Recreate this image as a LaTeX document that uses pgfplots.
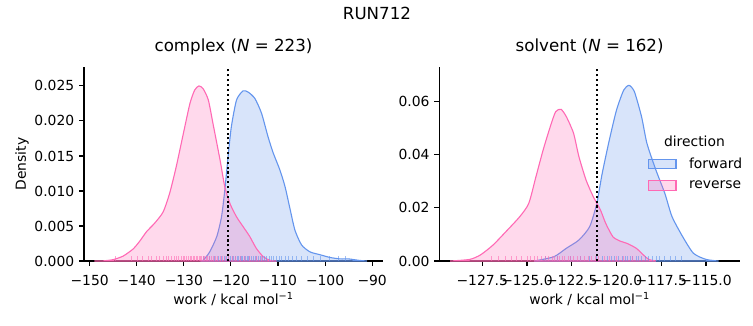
\documentclass[border=0pt]{standalone}
\usepackage{pgfplots}
\pgfplotsset{compat=1.18}
\usepackage{fontspec}
\setmainfont{DejaVu Sans}
\definecolor{fwd}{HTML}{6495ED}
\definecolor{rev}{HTML}{FF69B4}
\pgfplotsset{
  myaxis/.style={
    scale only axis, width=215.28pt, height=139.68pt,
    axis x line*=bottom, axis y line*=left,
    axis line style={line width=0.8pt, -},
    tick align=outside, major tick length=3.5pt,
    tick style={line width=0.8pt, black},
    scaled y ticks=false, scaled x ticks=false,
    tick label style={font=\fontsize{10}{12}\selectfont},
    xticklabel style={yshift=-3pt},
    label style={font=\fontsize{10}{12}\selectfont},
    title style={font=\fontsize{12}{14}\selectfont, at={(0.5,1)}, anchor=base, yshift=5pt},
    xlabel={work / kcal mol\textsuperscript{−1}},
    xlabel style={at={(axis description cs:0.5,-0.196)}, anchor=center},
    ymin=0,
  },
  kde/.style={smooth, tension=0.4, line width=0.8pt, fill opacity=0.25},
  rug/.style={ycomb, no marks, line width=0.5pt, opacity=0.6, forget plot},
}
\begin{document}
\begin{tikzpicture}
\path (0,0) rectangle (542.16pt,234pt);
\node[font=\fontsize{12}{14}\selectfont, anchor=base] at (271.4pt,220.3pt) {RUN712};
% ---------------- complex ----------------
\begin{axis}[myaxis, at={(60.48pt,46.08pt)}, anchor=south west,
  xmin=-151.2, xmax=-87.7, ymax=0.0277,
  xtick={-150,-140,-130,-120,-110,-100,-90},
  xticklabels={−150,−140,−130,−120,−110,−100,−90},
  ytick={0,0.005,0.01,0.015,0.02,0.025},
  yticklabels={0.000,0.005,0.010,0.015,0.020,0.025},
  ylabel={Density},
  ylabel style={at={(axis description cs:-0.207,0.5)}, anchor=center},
  title={complex (\textit{N} = 223)}]
\addplot[kde, draw=fwd, fill=fwd] coordinates {
(-126.5,0)(-125.9,0.0001)(-124.5,0.0013)(-123.0,0.0035)(-122.0,0.0063)(-121.3,0.0101)(-120.6,0.0149)(-119.9,0.0192)(-118.8,0.0230)(-117.4,0.0243)(-116.3,0.0241)(-114.9,0.0232)(-113.5,0.0211)(-112.1,0.0177)(-111.0,0.0154)(-109.6,0.0130)(-108.5,0.0106)(-107.4,0.0073)(-106.4,0.0044)(-105.0,0.0023)(-103.2,0.0013)(-101.1,0.0009)(-98.9,0.0005)(-96.8,0.0003)(-95.0,0.0003)(-92.9,0.0001)(-91.1,0)
} \closedcycle;
\addplot[kde, draw=rev, fill=rev] coordinates {
(-149,0)(-147,0.00003)(-145.0,0.0002)(-142.9,0.0007)(-140.8,0.0017)(-139.4,0.0028)(-137.9,0.0042)(-136.2,0.0054)(-134.4,0.0070)(-133.0,0.0097)(-131.6,0.0135)(-130.1,0.0182)(-128.7,0.0225)(-127.7,0.0244)(-126.8,0.0250)(-125.9,0.0246)(-124.8,0.0230)(-123.8,0.0196)(-122.3,0.0144)(-121.3,0.0106)(-120.2,0.0082)(-118.8,0.0063)(-117.4,0.0049)(-116.0,0.0035)(-114.6,0.0018)(-113.1,0.0006)(-111.7,0.0001)(-110.3,0)
} \closedcycle;
\addplot[rug, draw=fwd] coordinates {
(-125.8,0.00069)(-124.6,0.00069)(-123.5,0.00069)(-122.7,0.00069)(-122.0,0.00069)(-121.5,0.00069)(-121.0,0.00069)(-120.6,0.00069)(-120.2,0.00069)(-119.8,0.00069)(-119.4,0.00069)(-119.0,0.00069)(-118.7,0.00069)(-118.4,0.00069)(-118.1,0.00069)(-117.8,0.00069)(-117.5,0.00069)(-117.2,0.00069)(-116.9,0.00069)(-116.6,0.00069)(-116.3,0.00069)(-116.0,0.00069)(-115.6,0.00069)(-115.3,0.00069)(-114.9,0.00069)(-114.5,0.00069)(-114.1,0.00069)(-113.7,0.00069)(-113.3,0.00069)(-112.9,0.00069)(-112.4,0.00069)(-111.9,0.00069)(-111.4,0.00069)(-110.9,0.00069)(-110.4,0.00069)(-109.8,0.00069)(-109.2,0.00069)(-108.5,0.00069)(-107.8,0.00069)(-107.0,0.00069)(-106.1,0.00069)(-105.0,0.00069)(-103.8,0.00069)(-102.5,0.00069)(-101.0,0.00069)(-99.0,0.00069)(-97.2,0.00069)(-95.7,0.00069)
};
\addplot[rug, draw=rev] coordinates {
(-144.5,0.00069)(-141.2,0.00069)(-139.8,0.00069)(-138.9,0.00069)(-137.6,0.00069)(-136.8,0.00069)(-135.9,0.00069)(-135.1,0.00069)(-134.4,0.00069)(-133.7,0.00069)(-133.2,0.00069)(-132.6,0.00069)(-132.0,0.00069)(-131.5,0.00069)(-131.1,0.00069)(-130.6,0.00069)(-130.2,0.00069)(-129.8,0.00069)(-129.4,0.00069)(-129.0,0.00069)(-128.7,0.00069)(-128.3,0.00069)(-128.0,0.00069)(-127.7,0.00069)(-127.4,0.00069)(-127.1,0.00069)(-126.8,0.00069)(-126.5,0.00069)(-126.2,0.00069)(-125.9,0.00069)(-125.6,0.00069)(-125.2,0.00069)(-124.9,0.00069)(-124.5,0.00069)(-124.1,0.00069)(-123.7,0.00069)(-123.2,0.00069)(-122.8,0.00069)(-122.3,0.00069)(-121.8,0.00069)(-121.2,0.00069)(-120.5,0.00069)(-119.8,0.00069)(-119.0,0.00069)(-118.1,0.00069)(-117.2,0.00069)(-116.0,0.00069)(-114.6,0.00069)(-113.5,0.00069)
};
\addplot[black, dotted, line width=1.5pt, forget plot] coordinates {(-120.7,0) (-120.7,0.0277)};
\end{axis}
% ---------------- solvent ----------------
\begin{axis}[myaxis, at={(316.3pt,46.08pt)}, anchor=south west, width=216.5pt,
  xmin=-129.9, xmax=-113.1, ymax=0.0729,
  xtick={-127.5,-125,-122.5,-120,-117.5,-115},
  xticklabels={−127.5,−125.0,−122.5,−120.0,−117.5,−115.0},
  ytick={0,0.02,0.04,0.06},
  yticklabels={0.00,0.02,0.04,0.06},
  title={solvent (\textit{N} = 162)},
  legend style={draw=none, fill=none, at={(axis description cs:0.678,0.563)}, anchor=north west,
    font=\fontsize{10}{12}\selectfont, row sep=3.5pt},
  legend cell align=left,
  legend image code/.code={\draw[#1, line width=0.8pt] (0pt,-3.5pt) rectangle (20pt,3.5pt);}]
\addplot[kde, draw=fwd, fill=fwd] coordinates {
(-124.6,0)(-123.5,0.0016)(-122.8,0.0048)(-122.1,0.0079)(-121.5,0.0129)(-121.1,0.0217)(-120.8,0.0329)(-120.4,0.0455)(-120.0,0.0567)(-119.6,0.0642)(-119.3,0.0660)(-119.0,0.0636)(-118.6,0.0542)(-118.3,0.0442)(-117.8,0.0342)(-117.3,0.0254)(-116.9,0.0167)(-116.3,0.0091)(-115.7,0.0029)(-115.0,0.0006)(-114.3,0)
} \closedcycle;
\addlegendentry{\hspace{7pt}forward}
\addplot[kde, draw=rev, fill=rev] coordinates {
(-129.3,0)(-128.2,0.0006)(-127.6,0.0023)(-126.9,0.0060)(-126.1,0.0116)(-125.4,0.0167)(-124.9,0.0217)(-124.5,0.0317)(-124.1,0.0417)(-123.7,0.0505)(-123.4,0.0561)(-123.1,0.0570)(-122.8,0.0542)(-122.4,0.0480)(-122.1,0.0392)(-121.7,0.0304)(-121.3,0.0242)(-120.9,0.0192)(-120.6,0.0141)(-120.2,0.0091)(-119.8,0.0075)(-119.4,0.0066)(-118.9,0.0048)(-118.5,0.0023)(-118.2,0.0006)(-117.8,0)
} \closedcycle;
\addlegendentry{\hspace{7pt}reverse}
\addplot[rug, draw=fwd] coordinates {
(-124.0,0.0018)(-123.3,0.0018)(-122.6,0.0018)(-122.0,0.0018)(-121.5,0.0018)(-121.1,0.0018)(-120.8,0.0018)(-120.5,0.0018)(-120.3,0.0018)(-120.1,0.0018)(-119.9,0.0018)(-119.7,0.0018)(-119.5,0.0018)(-119.4,0.0018)(-119.2,0.0018)(-119.1,0.0018)(-118.9,0.0018)(-118.8,0.0018)(-118.6,0.0018)(-118.4,0.0018)(-118.2,0.0018)(-118.0,0.0018)(-117.8,0.0018)(-117.6,0.0018)(-117.3,0.0018)(-117.0,0.0018)(-116.7,0.0018)(-116.4,0.0018)
};
\addplot[rug, draw=rev] coordinates {
(-127.0,0.0018)(-126.6,0.0018)(-126.2,0.0018)(-125.9,0.0018)(-125.6,0.0018)(-125.3,0.0018)(-125.0,0.0018)(-124.8,0.0018)(-124.6,0.0018)(-124.4,0.0018)(-124.2,0.0018)(-124.0,0.0018)(-123.8,0.0018)(-123.6,0.0018)(-123.5,0.0018)(-123.3,0.0018)(-123.2,0.0018)(-123.0,0.0018)(-122.9,0.0018)(-122.7,0.0018)(-122.6,0.0018)(-122.4,0.0018)(-122.2,0.0018)(-122.0,0.0018)(-121.8,0.0018)(-121.6,0.0018)(-121.4,0.0018)(-121.2,0.0018)(-121.0,0.0018)(-120.7,0.0018)(-120.4,0.0018)(-120.0,0.0018)(-119.6,0.0018)(-119.1,0.0018)
};
\addplot[black, dotted, line width=1.5pt, forget plot] coordinates {(-121.1,0) (-121.1,0.0729)};
\end{axis}
\node[font=\fontsize{10}{12}\selectfont] at (500.0pt,132.5pt) {direction};
\end{tikzpicture}
\end{document}
